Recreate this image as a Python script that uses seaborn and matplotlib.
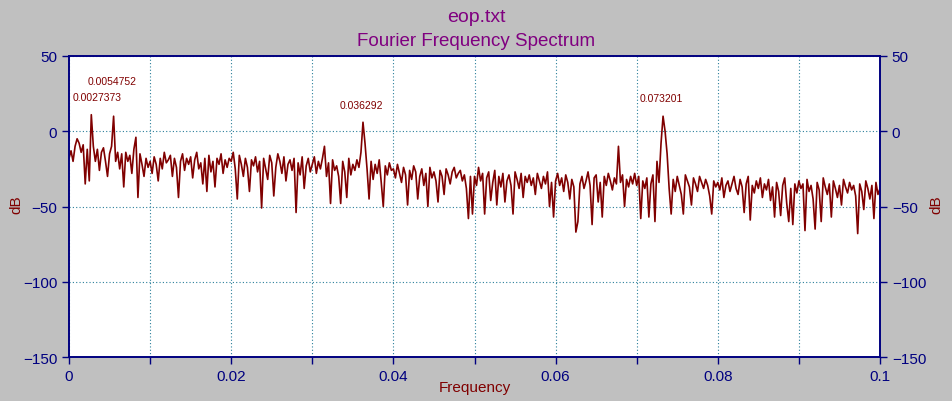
import numpy as np
import pandas as pd
import seaborn as sns
from matplotlib import pyplot as plt

# spectrum, one list per 0.01 of frequency (step 0.00025)
FREQ_STEP = 0.00025
seg_00 = [-18, -13, -20, -10, -5, -8, -14, -9, -35, -12, -33, 11, -10, -20, -12, -26,
          -14, -11, -20, -30, -15, -10, 10, -20, -14, -25, -15, -37, -14, -20, -16, -28,
          -12, -4, -44, -15, -22, -30, -18, -24]
seg_01 = [-20, -28, -17, -22, -33, -18, -25, -14, -21, -19, -16, -30, -18, -24, -44, -20,
          -15, -26, -18, -22, -17, -31, -19, -14, -25, -21, -35, -18, -40, -16, -27, -20,
          -37, -18, -22, -15, -28, -19, -24, -18]
seg_02 = [-20, -14, -25, -45, -16, -22, -30, -18, -24, -40, -19, -23, -17, -27, -20, -51,
          -18, -25, -32, -16, -21, -43, -24, -15, -20, -28, -17, -33, -22, -19, -26, -18,
          -54, -21, -29, -17, -38, -23, -18, -27]
seg_03 = [-22, -17, -28, -20, -25, -18, -10, -30, -21, -48, -19, -26, -23, -30, -48, -20,
          -27, -44, -18, -29, -22, -26, -19, -24, -14, 6, -8, -25, -45, -20, -32, -22,
          -28, -19, -34, -50, -23, -29, -21, -26]
seg_04 = [-25, -31, -22, -28, -34, -24, -29, -49, -26, -32, -23, -27, -45, -30, -25, -36,
          -28, -50, -24, -31, -27, -33, -47, -26, -30, -42, -25, -29, -35, -27, -24, -31,
          -28, -26, -33, -29, -38, -58, -30, -55]
seg_05 = [-30, -36, -24, -33, -28, -55, -31, -27, -46, -34, -26, -49, -30, -37, -28, -47,
          -33, -29, -36, -55, -27, -32, -38, -28, -44, -30, -34, -29, -36, -31, -42, -28,
          -33, -38, -30, -35, -27, -50, -34, -57]
seg_06 = [-33, -28, -36, -31, -40, -29, -34, -45, -32, -37, -67, -60, -35, -30, -38, -33,
          -27, -36, -62, -31, -29, -47, -34, -57, -30, -36, -28, -33, -39, -31, -35, -10,
          -34, -29, -50, -32, -37, -30, -35, -28]
seg_07 = [-36, -30, -58, -33, -38, -31, -57, -35, -29, -60, -20, -34, -8, 10, 0, -15,
          -38, -55, -32, -40, -30, -36, -42, -55, -29, -33, -37, -49, -31, -35, -40, -30,
          -34, -38, -32, -36, -43, -55, -33, -37]
seg_08 = [-34, -39, -31, -44, -36, -33, -40, -35, -30, -38, -42, -32, -37, -54, -35, -30,
          -59, -36, -41, -33, -38, -31, -44, -35, -39, -32, -46, -37, -57, -34, -40, -56,
          -36, -31, -48, -60, -38, -62, -35, -41]
seg_09 = [-33, -38, -35, -66, -32, -40, -36, -45, -65, -34, -39, -60, -31, -37, -42, -35,
          -57, -33, -38, -44, -36, -49, -32, -37, -41, -34, -39, -36, -43, -68, -35, -40,
          -52, -33, -38, -45, -36, -58, -34, -42, -38]

peak_freqs = [0.0027373, 0.0054752, 0.036292, 0.073201]
peak_labels = ['0.0027373', '0.0054752', '0.036292', '0.073201']
peak_offsets = [(-19, 18), (-26, 35), (-23, 17), (-23, 18)]

x_ticks = [0, 0.02, 0.04, 0.06, 0.08, 0.1]
x_tick_labels = ['0', '0.02', '0.04', '0.06', '0.08', '0.1']
x_minor = [0.01, 0.03, 0.05, 0.07, 0.09]
y_ticks = [50, 0, -50, -100, -150]

RED = '#800000'
NAVY = '#000080'
PURPLE = '#800080'
GRID = '#2a7f9a'

db = (seg_00 + seg_01 + seg_02 + seg_03 + seg_04 + seg_05 + seg_06 + seg_07
      + seg_08 + seg_09)
freq = np.arange(len(db)) * FREQ_STEP
df = pd.DataFrame({'Frequency': freq, 'dB': db})

sns.set_style('white')
plt.rcParams['font.family'] = ['Liberation Sans', 'DejaVu Sans']

fig = plt.figure(figsize=(9.52, 4.02), dpi=100, facecolor='#c0c0c0')
ax = fig.add_axes([69 / 952, 1 - 358 / 402, 811 / 952, 301 / 402])
ax.set_facecolor('white')

sns.lineplot(data=df, x='Frequency', y='dB', ax=ax, color=RED, lw=1.2)

ax.set_xlim(0, 0.1)
ax.set_ylim(-150, 50)
ax.set_xticks(x_ticks)
ax.set_xticklabels(x_tick_labels)
ax.set_xticks(x_minor, minor=True)
ax.set_yticks(y_ticks)
ax.grid(True, which='both', axis='x', color=GRID, linestyle=(0, (1, 2)), lw=0.8)
ax.grid(True, which='major', axis='y', color=GRID, linestyle=(0, (1, 2)), lw=0.8)
for s in ax.spines.values():
    s.set_color(NAVY)
    s.set_linewidth(1.2)
ax.tick_params(axis='both', which='both', colors=NAVY, labelcolor=NAVY,
               labelsize=11, direction='out', length=5, width=1, left=True, bottom=True)
ax.set_xlabel('')
ax.set_ylabel('')

ax2 = ax.twinx()
ax2.set_ylim(-150, 50)
ax2.set_yticks(y_ticks)
ax2.tick_params(axis='y', colors=NAVY, labelcolor=NAVY, labelsize=11,
                direction='out', length=5, width=1, right=True)
for s in ax2.spines.values():
    s.set_color(NAVY)
    s.set_linewidth(1.2)

for f, lab, off in zip(peak_freqs, peak_labels, peak_offsets):
    i = int(round(f / FREQ_STEP))
    ax.annotate(lab, xy=(freq[i], db[i]), xytext=off, textcoords='offset pixels',
                ha='left', va='center', color=RED, fontsize=7.5)

fig.text(475 / 952, 1 - 388 / 402, 'Frequency', ha='center', va='center', color=RED, fontsize=11)
fig.text(16 / 952, 1 - 205 / 402, 'dB', ha='center', va='center', color=RED,
         fontsize=11, rotation=90)
fig.text(936 / 952, 1 - 205 / 402, 'dB', ha='center', va='center', color=RED,
         fontsize=11, rotation=90)
fig.text(0.5, 1 - 18 / 402, 'eop.txt', ha='center', va='center', color=PURPLE, fontsize=14)
fig.text(0.5, 1 - 42 / 402, 'Fourier Frequency Spectrum', ha='center', va='center',
         color=PURPLE, fontsize=13.5)

fig.savefig('out.png', dpi=100, facecolor=fig.get_facecolor())
